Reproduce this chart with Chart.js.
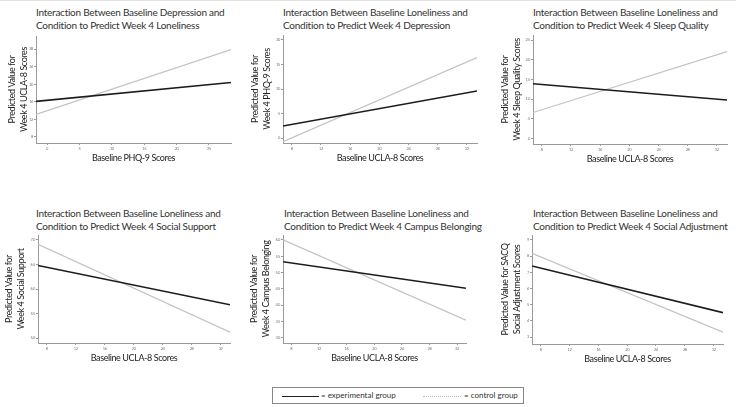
<!DOCTYPE html>
<html lang="en">
<head>
<meta charset="UTF-8">
<title>Interaction plots</title>
<script src="https://cdn.jsdelivr.net/npm/chart.js"></script>
<style>
  body {
    margin: 0;
    width: 736px;
    height: 407px;
    position: relative;
    overflow: hidden;
    background: #fff;
    font-family: Lato, sans-serif;
    border-top: 1px solid #e2e2e2;
    box-sizing: border-box;
  }
  .title {
    position: absolute;
    font-size: 10px;
    letter-spacing: -0.25px;
    line-height: 12.4px;
    color: #333;
    white-space: nowrap;
  }
  canvas { position: absolute; }
  .legend {
    position: absolute;
    left: 272px;
    top: 386px;
    width: 252px;
    height: 17px;
    border: 1px solid #888;
    box-sizing: border-box;
  }
  .legend span { position: absolute; font-size: 8px; color: #333; top: 2px; white-space: nowrap; }
  .legend .sample { height: 0; top: 8px; }
</style>
</head>
<body>
<div class="legend">
  <span class="sample" style="left:9px;width:37px;border-top:1.3px solid #222"></span>
  <span style="left:48px">= experimental group</span>
  <span class="sample" style="left:150px;width:38px;border-top:1px dotted #bbb"></span>
  <span style="left:191px">= control group</span>
</div>

<script>
  // chart data, one entry per panel
  const titles = [
    ['Interaction Between Baseline Depression and', 'Condition to Predict Week 4 Loneliness'],
    ['Interaction Between Baseline Loneliness and', 'Condition to Predict Week 4 Depression'],
    ['Interaction Between Baseline Loneliness and', 'Condition to Predict Week 4 Sleep Quality'],
    ['Interaction Between Baseline Loneliness and', 'Condition to Predict Week 4 Social Support'],
    ['Interaction Between Baseline Loneliness and', 'Condition to Predict Week 4 Campus Belonging'],
    ['Interaction Between Baseline Loneliness and', 'Condition to Predict Week 4 Social Adjustment']
  ];
  const xTitles = [
    'Baseline PHQ-9 Scores', 'Baseline UCLA-8 Scores', 'Baseline UCLA-8 Scores',
    'Baseline UCLA-8 Scores', 'Baseline UCLA-8 Scores', 'Baseline UCLA-8 Scores'
  ];
  const yTitles = [
    ['Predicted Value for', 'Week 4 UCLA-8 Scores'],
    ['Predicted Value for', 'Week 4 PHQ-9 Scores'],
    ['Predicted Value for', 'Week 4 Sleep Quality Scores'],
    ['Predicted Value for', 'Week 4 Social Support'],
    ['Predicted Value for', 'Week 4 Campus Belonging'],
    ['Predicted Value for SACQ', 'Social Adjustment Scores']
  ];
  const xRanges = [[-1.7, 28.4], [6.8, 33.4], [6.8, 33.4], [6.8, 33.3], [6.8, 33.3], [6.8, 33.3]];
  const yRanges = [[6.6, 31], [-1, 21], [-0.14, 2.63], [4.9, 7.1], [2.84, 6.15], [2.58, 9.3]];
  const xTickLabels = [
    ['0', '5', '10', '15', '20', '25'],
    ['8', '12', '16', '20', '24', '28', '32'],
    ['8', '12', '16', '20', '24', '28', '32'],
    ['8', '12', '16', '20', '24', '28', '32'],
    ['8', '12', '16', '20', '24', '28', '32'],
    ['8', '12', '16', '20', '24', '28', '32']
  ];
  const yTickLabels = [
    ['8', '12', '16', '20', '24', '28'],
    ['0', '5', '10', '15', '20'],
    ['.0', '.5', '1.0', '1.5', '2.0', '2.5'],
    ['5.0', '5.5', '6.0', '6.5', '7.0'],
    ['3.0', '3.5', '4.0', '4.5', '5.0', '5.5', '6.0'],
    ['3', '4', '5', '6', '7', '8', '9']
  ];
  // predicted values at the left and right end of each panel
  const experimental = [[16.1, 20.4], [2.45, 9.6], [1.39, 0.98], [6.48, 5.68], [5.33, 4.52], [7.39, 4.51]];
  const control = [[13.1, 27.9], [-0.75, 16.4], [0.66, 2.21], [6.91, 5.12], [6.0, 3.54], [8.17, 3.31]];

  // plot areas: left, top, right, bottom
  const areas = [
    [36, 35, 231, 142], [283, 34, 477, 142], [533, 34, 727, 143],
    [38, 234, 230, 342], [283, 234, 466, 342], [532, 234, 723, 343]
  ];
  const titlePos = [[36, 5.4], [283, 5.4], [533, 5.4], [36, 206.4], [284, 206.4], [533, 206.4]];
  const yTitlePad = [6, 2, 2, 1, 1, 3];
  const yw = 36, xh = 24, padTop = 4, padRight = 4;

  const axisColor = '#9a9a9a';
  const tickFont = { family: 'Lato', size: 4 };
  const axisTitleFont = { family: 'Lato', size: 9, lineHeight: 1.33 };

  // narrower axis titles, closer to the original Calibri
  const tightText = {
    id: 'tightText',
    beforeDraw(chart) { chart.ctx.letterSpacing = '-0.4px'; }
  };

  titles.forEach((t, i) => {
    const div = document.createElement('div');
    div.className = 'title';
    div.style.left = titlePos[i][0] + 'px';
    div.style.top = titlePos[i][1] + 'px';
    div.innerHTML = t[0] + '<br>' + t[1];
    document.body.appendChild(div);

    const [L, T, R, B] = areas[i];
    const cv = document.createElement('canvas');
    cv.width = R - L + yw + padRight;
    cv.height = B - T + padTop + xh;
    cv.style.left = (L - yw) + 'px';
    cv.style.top = (T - padTop) + 'px';
    document.body.appendChild(cv);

    const xs = xRanges[i];
    const xVals = xTickLabels[i].map(parseFloat);
    const yVals = yTickLabels[i].map(parseFloat);

    new Chart(cv, {
      type: 'line',
      data: {
        datasets: [
          {
            label: 'experimental group',
            data: [{ x: xs[0], y: experimental[i][0] }, { x: xs[1], y: experimental[i][1] }],
            borderColor: '#1c1c1c',
            borderWidth: 1.6,
            pointRadius: 0
          },
          {
            label: 'control group',
            data: [{ x: xs[0], y: control[i][0] }, { x: xs[1], y: control[i][1] }],
            borderColor: '#c2c2c2',
            borderWidth: 1.2,
            pointRadius: 0
          }
        ]
      },
      options: {
        responsive: false,
        animation: false,
        layout: { padding: { top: padTop, right: padRight, left: 0, bottom: 0 } },
        plugins: { legend: { display: false }, tooltip: { enabled: false } },
        scales: {
          x: {
            type: 'linear',
            min: xs[0],
            max: xs[1],
            border: { color: axisColor, width: 1 },
            grid: { drawOnChartArea: false, color: axisColor, tickLength: 2 },
            ticks: {
              font: tickFont, color: '#777', padding: 1, autoSkip: false, maxRotation: 0,
              callback: v => xTickLabels[i][xVals.indexOf(v)]
            },
            afterBuildTicks: axis => { axis.ticks = xVals.map(v => ({ value: v })); },
            afterFit: axis => { axis.height = xh; },
            title: {
              display: true, text: xTitles[i], font: axisTitleFont, color: '#222',
              padding: { top: 0, bottom: 3 }
            }
          },
          y: {
            min: yRanges[i][0],
            max: yRanges[i][1],
            border: { color: axisColor, width: 1 },
            grid: { drawOnChartArea: false, color: axisColor, tickLength: 2 },
            ticks: {
              font: tickFont, color: '#777', padding: 1, autoSkip: false,
              callback: v => yTickLabels[i][yVals.indexOf(v)]
            },
            afterBuildTicks: axis => { axis.ticks = yVals.map(v => ({ value: v })); },
            afterFit: axis => { axis.width = yw; },
            title: {
              display: true, text: yTitles[i], font: axisTitleFont, color: '#222',
              padding: { top: yTitlePad[i], bottom: 0 }
            }
          }
        }
      },
      plugins: [tightText]
    });
  });
</script>
</body>
</html>
